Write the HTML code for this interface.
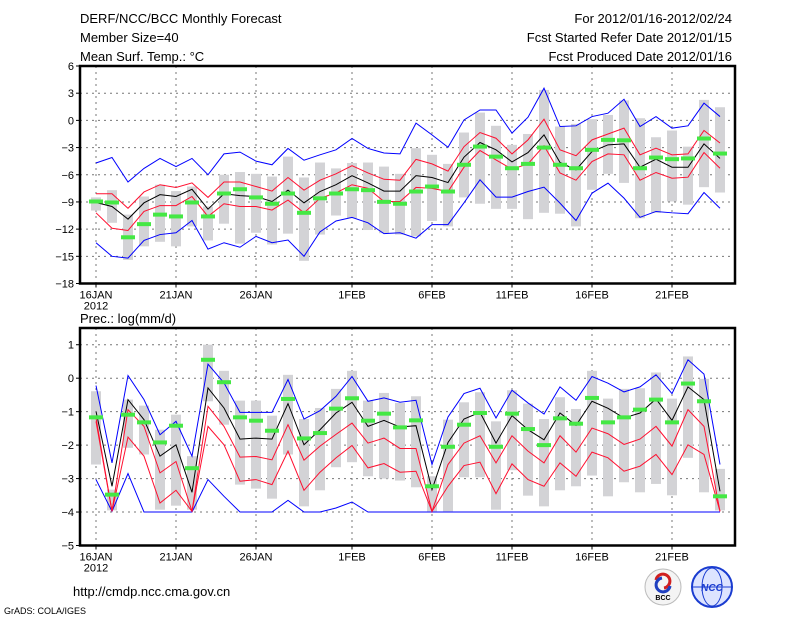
<!DOCTYPE html>
<html><head><meta charset="utf-8"><style>
body{margin:0;background:#fff;}
svg{display:block;font-family:"Liberation Sans",sans-serif;}
</style></head><body>
<svg id="c" width="800" height="618" xmlns="http://www.w3.org/2000/svg">
<text x="80" y="23" font-size="13">DERF/NCC/BCC Monthly Forecast</text>
<text x="80" y="42" font-size="13">Member Size=40</text>
<text x="80" y="61" font-size="13">Mean Surf. Temp.: °C</text>
<text x="732" y="23" font-size="13" text-anchor="end">For 2012/01/16-2012/02/24</text>
<text x="732" y="42" font-size="13" text-anchor="end">Fcst Started Refer Date 2012/01/15</text>
<text x="732" y="61" font-size="13" text-anchor="end">Fcst Produced Date 2012/01/16</text>
<text x="80" y="323" font-size="13">Prec.: log(mm/d)</text>
<text x="73" y="596" font-size="13">http://cmdp.ncc.cma.gov.cn</text>
<text x="4" y="614" font-size="9">GrADS: COLA/IGES</text>
<g>
<circle cx="663" cy="587" r="18" fill="#f4f4f4" stroke="#bbb"/>
<path d="M656 580 a7 7 0 1 1 8 8" fill="none" stroke="#d02020" stroke-width="3"/>
<path d="M670 586 a7 7 0 1 1 -8 -8" fill="none" stroke="#2040c0" stroke-width="3"/>
<text x="663" y="600" font-size="7" text-anchor="middle" font-weight="bold">BCC</text>
</g>
<g>
<circle cx="712" cy="587" r="20" fill="#dde4ff" stroke="#1a3cd0" stroke-width="2"/>
<ellipse cx="712" cy="587" rx="10" ry="19" fill="none" stroke="#1a3cd0"/>
<line x1="692" y1="587" x2="732" y2="587" stroke="#1a3cd0"/>
<text x="712" y="591" font-size="10" text-anchor="middle" fill="#1a3cd0" font-weight="bold" font-style="italic">NCC</text>
</g>
</svg>
<script>
// day index 0..39 (16JAN..24FEB)
const xLabels=["16JAN","21JAN","26JAN","1FEB","6FEB","11FEB","16FEB","21FEB"];
const xLabelDays=[0,5,10,16,21,26,31,36];
const tTicks=[6,3,0,-3,-6,-9,-12,-15,-18];
const pTicks=[1,0,-1,-2,-3,-4,-5];
// temperature
const tBlueHi=[-4.7,-4.1,-6.8,-5.3,-4.2,-5.1,-4.2,-6.0,-3.7,-3.5,-4.5,-4.9,-3.1,-4.4,-3.8,-3.25,-2.0,-3.1,-3.6,-3.7,-0.3,-1.6,-2.97,0.05,1.15,1.15,-1.4,0.35,3.55,-0.68,-0.6,0.42,0.79,2.33,-0.68,0.42,-0.86,-0.6,1.9,0.42];
const tRedHi=[-8.1,-8.1,-9.7,-7.9,-7.1,-7.4,-6.9,-8.5,-6.8,-6.8,-7.3,-7.8,-6.3,-7.7,-6.6,-5.9,-5.0,-5.8,-6.5,-6.6,-4.3,-4.8,-5.6,-2.9,-1.34,-1.97,-3.7,-2.15,0.13,-3.25,-3.9,-2.15,-1.5,-0.86,-3.8,-3.07,-3.8,-3.7,-1.12,-2.5];
const tMean=[-9.06,-9.5,-10.9,-9.1,-8.2,-8.4,-7.6,-9.8,-8.1,-8.3,-8.4,-8.95,-7.7,-9.1,-7.85,-7.1,-6.1,-6.9,-7.8,-7.8,-6.1,-6.3,-6.86,-4.06,-2.44,-3.25,-4.58,-3.55,-1.6,-4.65,-5.46,-3.44,-2.7,-2.6,-5.17,-4.28,-5.17,-5.17,-2.6,-4.2];
const tRedLo=[-10.2,-11.9,-12.15,-10.05,-9.4,-9.4,-8.4,-10.6,-9.2,-9.5,-9.5,-9.9,-8.8,-10.2,-8.6,-8.0,-7.1,-7.5,-8.95,-8.95,-7.4,-7.5,-7.85,-5.17,-3.33,-4.36,-5.39,-4.8,-2.8,-5.8,-6.6,-4.54,-3.7,-3.8,-6.6,-5.75,-6.38,-6.27,-3.55,-5.28];
const tBlueLo=[-13.5,-15.0,-15.2,-13.25,-12.6,-12.4,-11.05,-14.2,-13.5,-14.0,-12.8,-13.5,-13.2,-15.0,-12.3,-11.1,-10.7,-11.3,-12.5,-12.4,-13.0,-11.5,-11.5,-9.1,-6.56,-8.47,-8.47,-7.85,-7.37,-9.13,-11.05,-8.03,-6.93,-8.58,-10.7,-10.05,-10.2,-10.3,-7.96,-9.7];
const tObs=[-8.95,-9.06,-12.9,-11.45,-10.4,-10.6,-9.06,-10.6,-8.07,-7.6,-8.5,-9.2,-8.07,-10.2,-8.6,-8.07,-7.6,-7.7,-8.99,-9.2,-7.85,-7.3,-7.85,-4.9,-2.89,-4.0,-5.28,-4.8,-3.0,-4.9,-5.28,-3.25,-2.15,-2.2,-5.28,-4.1,-4.28,-4.2,-2.0,-3.66];
const tBoxHi=[-8.5,-7.7,-10.4,-8.4,-7.1,-7.8,-7.3,-9.5,-6.0,-5.7,-5.9,-6.2,-4.0,-6.3,-4.65,-5.3,-4.7,-4.65,-5.1,-5.9,-3.07,-3.8,-4.8,-1.34,0.86,-0.6,-2.7,-1.5,3.36,-0.68,-0.39,0.13,0.6,2.2,0.24,-1.86,-1.12,-2.9,2.26,1.45];
const tBoxLo=[-9.95,-11.3,-15.4,-13.9,-13.4,-13.9,-11.7,-13.25,-11.4,-13.6,-12.4,-13.7,-12.5,-15.5,-12.6,-10.5,-10.8,-12.1,-12.45,-12.6,-12.8,-11.1,-11.7,-8.5,-9.2,-9.76,-9.76,-10.9,-10.2,-10.3,-11.7,-7.66,-5.9,-6.9,-10.8,-10.2,-8.95,-9.3,-7.37,-7.96];
// precipitation
const pBlueHi=[-0.22,-2.53,0.08,-0.64,-1.69,-1.29,-2.33,0.42,-0.14,-1.02,-1.02,-1.02,-0.04,-1.22,-0.97,-0.54,0.05,-0.69,-0.59,-0.72,-0.66,-2.58,-1.16,-0.46,-0.3,-1.19,-0.36,-0.74,-1.07,-0.26,-0.66,0.05,-0.15,-0.41,-0.26,0.1,-0.46,0.55,0.12,-2.58];
const pRedHi=[-1.19,-3.97,-0.94,-1.44,-2.83,-2.49,-3.98,-0.84,-1.44,-2.36,-2.34,-2.44,-1.39,-2.45,-2.03,-1.68,-1.34,-1.94,-1.79,-2.1,-2.1,-3.98,-2.58,-1.94,-1.72,-2.53,-1.72,-2.18,-2.53,-1.72,-2.21,-1.49,-1.66,-1.98,-1.82,-1.44,-2.03,-0.94,-1.44,-3.98];
const pMean=[-0.99,-3.23,-0.64,-1.24,-2.33,-1.99,-3.41,-0.29,-0.89,-1.82,-1.79,-1.82,-0.76,-1.99,-1.54,-1.04,-0.72,-1.44,-1.26,-1.46,-1.42,-3.33,-1.92,-1.22,-1.02,-1.94,-1.12,-1.54,-1.84,-1.04,-1.41,-0.69,-0.9,-1.19,-1.04,-0.62,-1.26,-0.26,-0.64,-3.38];
const pRedLo=[-1.29,-3.98,-1.76,-2.33,-3.73,-3.35,-3.98,-1.44,-1.99,-3.08,-3.03,-3.18,-2.18,-3.35,-2.81,-2.38,-2.01,-2.68,-2.55,-2.81,-2.78,-3.98,-3.23,-2.61,-2.51,-3.45,-2.56,-3.03,-3.23,-2.53,-2.93,-2.21,-2.38,-2.78,-2.63,-2.28,-2.88,-1.99,-2.28,-3.98];
const pBlueLo=[-3.03,-3.98,-2.85,-4,-4,-4,-4,-3.03,-3.53,-4,-4,-4,-3.65,-4,-4,-3.88,-3.7,-4,-4,-4,-4,-4,-4,-4,-4,-4,-4,-4,-4,-4,-4,-4,-4,-4,-4,-4,-4,-4,-4,-4];
const pObs=[-1.17,-3.48,-1.09,-1.32,-1.92,-1.42,-2.69,0.55,-0.12,-1.17,-1.27,-1.57,-0.62,-1.8,-1.64,-0.91,-0.6,-1.27,-1.06,-1.47,-1.26,-3.23,-2.05,-1.39,-1.04,-2.05,-1.06,-1.52,-2.0,-1.2,-1.36,-0.59,-1.32,-1.17,-0.94,-0.64,-1.32,-0.16,-0.69,-3.53];
const pBoxHi=[-0.39,-3.33,-0.64,-0.82,-1.54,-1.09,-2.33,1.0,0.22,-0.67,-0.67,-1.12,0.1,-1.22,-0.89,-0.32,0.22,-0.67,-0.44,-0.74,-0.54,-2.93,-1.24,-0.72,-0.42,-1.29,-0.36,-0.76,-1.22,-0.57,-0.92,0.22,-0.61,-0.32,-0.3,0.17,-0.61,0.65,-0.02,-2.71];
const pBoxLo=[-2.58,-3.95,-2.08,-2.28,-3.93,-3.81,-3.93,-0.69,-1.39,-3.18,-3.3,-3.6,-2.28,-3.83,-3.35,-2.66,-2.51,-2.93,-3.0,-3.06,-3.26,-3.98,-3.98,-2.96,-2.96,-3.93,-2.75,-3.51,-3.83,-3.35,-3.23,-2.91,-3.53,-3.11,-3.41,-3.16,-3.5,-2.38,-3.41,-3.95];

const NS="http://www.w3.org/2000/svg";
const svg=document.getElementById('c');
const L=80,R=735;
function xs(d){return 96+16*d;}
function mk(tag,attrs,parent){const e=document.createElementNS(NS,tag);for(const k in attrs)e.setAttribute(k,attrs[k]);(parent||svg).appendChild(e);return e;}

function panel(name,top,bot,vTop,vBot,ticks,series,baseY){
  const ys=v=>top+(vTop-v)*(bot-top)/(vTop-vBot);
  const g=mk('g',{});
  
  
  // grid
  ticks.forEach(t=>{const y=ys(t);
    if(y>top+1&&y<bot-1){const ln=mk('line',{x1:L,x2:R,y1:y,y2:y,stroke:'#777','stroke-dasharray':'2,4','stroke-width':1},g);
      
      }
    const tk=mk('line',{x1:L-4,x2:L,y1:y,y2:y,stroke:'#000'},g);
    
    
    const tx=mk('text',{x:L-6,y:y+4,'font-size':11,'text-anchor':'end'},g);
    tx.textContent=(t<0?'\u2212':'')+Math.abs(t);
    
    
  });
  xLabelDays.forEach((d,i)=>{const x=xs(d);
    const ln=mk('line',{x1:x,x2:x,y1:top,y2:bot,stroke:'#777','stroke-dasharray':'2,4'},g);
    
    
    const tk=mk('line',{x1:x,x2:x,y1:bot,y2:bot+4,stroke:'#000'},g);
    
    
    const tx=mk('text',{x:x,y:bot+15,'font-size':11,'text-anchor':'middle'},g);
    tx.textContent=xLabels[i];
    
    
  });
  const yr=mk('text',{x:xs(0),y:bot+26,'font-size':11,'text-anchor':'middle'},g);
  yr.textContent='2012';
  
  
  // boxes
  series.boxHi.forEach((v,d)=>{const y1=ys(v),y2=ys(series.boxLo[d]);
    const r=mk('rect',{x:xs(d)-5,y:y1,width:10,height:Math.max(1,y2-y1),fill:'#d3d3d6'},g);
    
    });
  const line=(arr,col,nm)=>{const p=mk('polyline',{points:arr.map((v,d)=>xs(d)+','+ys(v)).join(' '),fill:'none',stroke:col,'stroke-width':1},g);
    
    };
  line(series.blueHi,'#0000ff','upper-extreme-line');
  line(series.blueLo,'#0000ff','lower-extreme-line');
  line(series.redHi,'#ff1030','upper-spread-line');
  line(series.redLo,'#ff1030','lower-spread-line');
  line(series.mean,'#000','ensemble-mean-line');
  series.obs.forEach((v,d)=>{const r=mk('rect',{x:xs(d)-7,y:ys(v)-2,width:14,height:4,fill:'#44e844'},g);
    
    });
  const fr=mk('rect',{x:L,y:top,width:R-L,height:bot-top,fill:'none',stroke:'#000','stroke-width':2.5},g);
  
  
}
panel('temperature-panel',66,283.5,6,-18,tTicks,{boxHi:tBoxHi,boxLo:tBoxLo,blueHi:tBlueHi,blueLo:tBlueLo,redHi:tRedHi,redLo:tRedLo,mean:tMean,obs:tObs});
panel('precipitation-panel',328,545.5,1.5,-5,pTicks,{boxHi:pBoxHi,boxLo:pBoxLo,blueHi:pBlueHi,blueLo:pBlueLo,redHi:pRedHi,redLo:pRedLo,mean:pMean,obs:pObs});
</script>
</body></html>
